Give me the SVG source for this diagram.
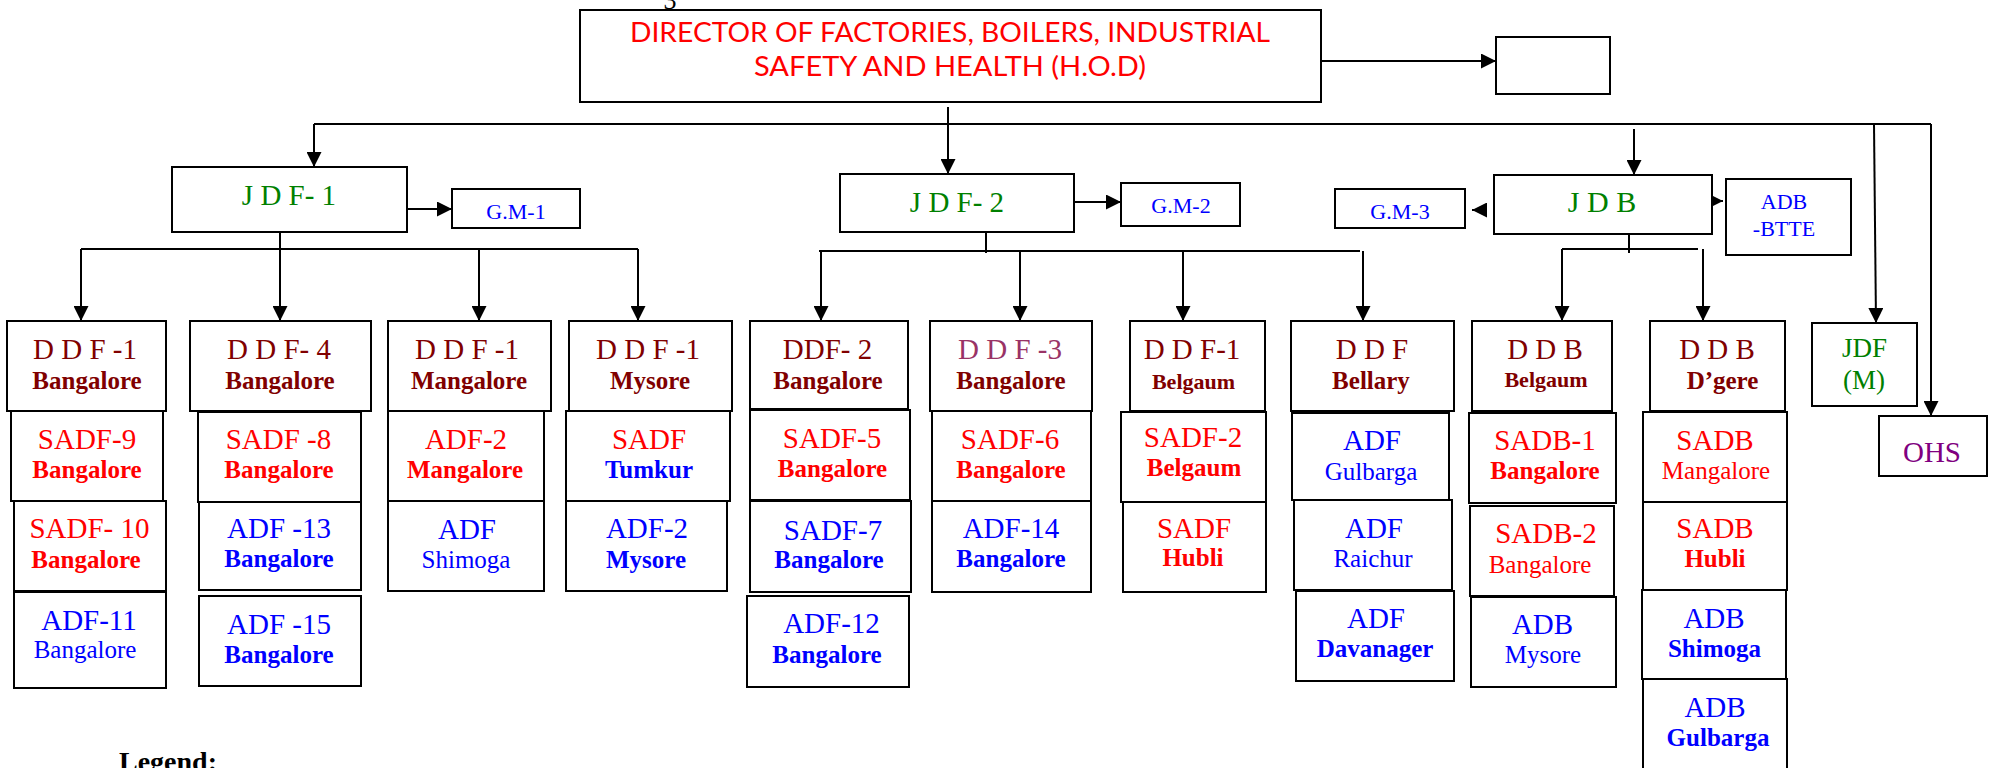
<svg xmlns="http://www.w3.org/2000/svg" width="1992" height="768" viewBox="0 0 1992 768">
<defs>
<marker id="arr" markerUnits="userSpaceOnUse" markerWidth="15" markerHeight="15" refX="14" refY="7" orient="auto" viewBox="0 0 14 14">
<path d="M0,0 L14,7 L0,14 z" fill="#000"/>
</marker>
<style>
.box{fill:#fff;stroke:#000;stroke-width:2}
.ln{fill:none;stroke:#000;stroke-width:2}
.ar{fill:none;stroke:#000;stroke-width:2;marker-end:url(#arr)}
text{font-family:"Liberation Serif","Times New Roman",serif;text-anchor:middle}
.h{font-size:29px}
.s{font-size:25px}
.sm{font-size:22px}
.b{font-weight:bold}
.dr{fill:#800000}
.rd{fill:#ff0000}
.bl{fill:#0000ff}
.gr{fill:#008000}
.pu{fill:#800080}
.mv{fill:#993366}
.hod{font-family:Lato,"Open Sans",sans-serif;font-size:27px;fill:#ff0000}
</style>
</defs>
<rect x="0" y="0" width="1992" height="768" fill="#fff"/>
<text x="670" y="9" style="font-size:26px;fill:#000">3</text>

<g id="connectors">
<path class="ar" d="M1321,61 H1496"/>
<path class="ln" d="M314,124 H1931"/>
<path class="ar" d="M314,124 V167"/>
<path class="ar" d="M948,107 V174"/>
<path class="ar" d="M1634,129 V175"/>
<path class="ar" d="M1874,124 L1876,323"/>
<path class="ar" d="M1931,124 V416"/>
<path class="ar" d="M407,209 H452"/>
<path class="ar" d="M1074,202 H1121"/>
<path class="ar" d="M1487,210 H1472"/>
<path class="ar" d="M1708,201 H1723"/>
<path class="ln" d="M280,232 V249 M81,249 H638"/>
<path class="ar" d="M81,249 V321"/>
<path class="ar" d="M280,249 V321"/>
<path class="ar" d="M479,249 V321"/>
<path class="ar" d="M638,249 V321"/>
<path class="ln" d="M986,232 V253 M819,251 H1360"/>
<path class="ar" d="M821,251 V321"/>
<path class="ar" d="M1020,251 V321"/>
<path class="ar" d="M1183,251 V321"/>
<path class="ar" d="M1363,251 V321"/>
<path class="ln" d="M1629,234 V253 M1562,249 H1698"/>
<path class="ar" d="M1562,249 V321"/>
<path class="ar" d="M1703,249 V321"/>
</g>

<g id="director"><rect class="box" x="580" y="10" width="741" height="92"/>
<text class="hod" x="950" y="42" textLength="640" lengthAdjust="spacingAndGlyphs">DIRECTOR OF FACTORIES, BOILERS, INDUSTRIAL</text>
<text class="hod" x="950" y="76" textLength="392" lengthAdjust="spacingAndGlyphs">SAFETY AND HEALTH (H.O.D)</text></g>
<g id="blank"><rect class="box" x="1496" y="37" width="114" height="57"/></g>

<g id="jdf1"><rect class="box" x="172" y="167" width="235" height="65"/><text class="h gr" x="289" y="205">J D F- 1</text></g>
<g id="gm1"><rect class="box" x="452" y="189" width="128" height="39"/><text class="sm bl" x="516" y="219">G.M-1</text></g>
<g id="jdf2"><rect class="box" x="840" y="174" width="234" height="58"/><text class="h gr" x="957" y="212">J D F- 2</text></g>
<g id="gm2"><rect class="box" x="1121" y="183" width="119" height="43"/><text class="sm bl" x="1181" y="213">G.M-2</text></g>
<g id="gm3"><rect class="box" x="1335" y="189" width="130" height="39"/><text class="sm bl" x="1400" y="219">G.M-3</text></g>
<g id="jdb"><rect class="box" x="1494" y="175" width="218" height="59"/><text class="gr" style="font-size:30px" x="1602" y="212">J D B</text></g>
<g id="adb_btte"><rect class="box" x="1726" y="179" width="125" height="76"/><text class="sm bl" x="1784" y="209">ADB</text><text class="sm bl" x="1784" y="236">-BTTE</text></g>

<g id="ddf1_blr"><rect class="box" x="7" y="321" width="159" height="90"/><text class="h dr" x="85" y="359">D D F -1</text><text class="s b dr" x="87" y="389">Bangalore</text></g>
<g id="sadf9"><rect class="box" x="11" y="411" width="152" height="90"/><text class="h rd" x="87" y="449">SADF-9</text><text class="s b rd" x="87" y="478">Bangalore</text></g>
<g id="sadf10"><rect class="box" x="14" y="501" width="152" height="90"/><text class="h rd" x="89.5" y="538">SADF- 10</text><text class="s b rd" x="86" y="568">Bangalore</text></g>
<g id="adf11"><rect class="box" x="14" y="592" width="152" height="96"/><text class="h bl" x="89" y="630">ADF-11</text><text class="s bl" x="85" y="658">Bangalore</text></g>

<g id="ddf4"><rect class="box" x="190" y="321" width="181" height="90"/><text class="h dr" x="279" y="359">D D F- 4</text><text class="s b dr" x="280" y="389">Bangalore</text></g>
<g id="sadf8"><rect class="box" x="198" y="412" width="163" height="90"/><text class="h rd" x="278.5" y="449">SADF -8</text><text class="s b rd" x="279" y="478">Bangalore</text></g>
<g id="adf13"><rect class="box" x="199" y="502" width="162" height="88"/><text class="h bl" x="279" y="538">ADF -13</text><text class="s b bl" x="279" y="567">Bangalore</text></g>
<g id="adf15"><rect class="box" x="199" y="596" width="162" height="90"/><text class="h bl" x="279" y="634">ADF -15</text><text class="s b bl" x="279" y="663">Bangalore</text></g>

<g id="ddf1_mng"><rect class="box" x="388" y="321" width="163" height="90"/><text class="h dr" x="467" y="359">D D F -1</text><text class="s b dr" x="469" y="389">Mangalore</text></g>
<g id="adf2_mng"><rect class="box" x="388" y="411" width="156" height="90"/><text class="h rd" x="466" y="449">ADF-2</text><text class="s b rd" x="465" y="478">Mangalore</text></g>
<g id="adf_shimoga"><rect class="box" x="388" y="501" width="156" height="90"/><text class="h bl" x="467" y="539">ADF</text><text class="s bl" x="466" y="568">Shimoga</text></g>

<g id="ddf1_mys"><rect class="box" x="569" y="321" width="163" height="90"/><text class="h dr" x="648" y="359">D D F -1</text><text class="s b dr" x="650" y="389">Mysore</text></g>
<g id="sadf_tumkur"><rect class="box" x="566" y="411" width="164" height="90"/><text class="h rd" x="649" y="449">SADF</text><text class="s b bl" x="649" y="478">Tumkur</text></g>
<g id="adf2_mys"><rect class="box" x="566" y="501" width="161" height="90"/><text class="h bl" x="647" y="538">ADF-2</text><text class="s b bl" x="646" y="568">Mysore</text></g>

<g id="ddf2"><rect class="box" x="750" y="321" width="158" height="88"/><text class="h dr" x="827.5" y="359">DDF- 2</text><text class="s b dr" x="828" y="389">Bangalore</text></g>
<g id="sadf5"><rect class="box" x="750" y="410" width="160" height="90"/><text class="h rd" x="832" y="448">SADF-5</text><text class="s b rd" x="832.5" y="477">Bangalore</text></g>
<g id="sadf7"><rect class="box" x="750" y="501" width="161" height="91"/><text class="h bl" x="833" y="540">SADF-7</text><text class="s b bl" x="829" y="568">Bangalore</text></g>
<g id="adf12"><rect class="box" x="747" y="596" width="162" height="91"/><text class="h bl" x="831.5" y="633">ADF-12</text><text class="s b bl" x="827" y="663">Bangalore</text></g>

<g id="ddf3"><rect class="box" x="930" y="321" width="162" height="90"/><text class="h mv" x="1010" y="359">D D F -3</text><text class="s b dr" x="1011" y="389">Bangalore</text></g>
<g id="sadf6"><rect class="box" x="932" y="411" width="159" height="90"/><text class="h rd" x="1010" y="449">SADF-6</text><text class="s b rd" x="1011" y="478">Bangalore</text></g>
<g id="adf14"><rect class="box" x="932" y="501" width="159" height="91"/><text class="h bl" x="1011" y="538">ADF-14</text><text class="s b bl" x="1011" y="567">Bangalore</text></g>

<g id="ddf1_bgm"><rect class="box" x="1130" y="321" width="135" height="90"/><text class="h dr" x="1192" y="359">D D F-1</text><text class="sm b dr" x="1193.5" y="389">Belgaum</text></g>
<g id="sadf2_bgm"><rect class="box" x="1121" y="412" width="145" height="90"/><text class="h rd" x="1193" y="447">SADF-2</text><text class="s b rd" x="1194" y="476">Belgaum</text></g>
<g id="sadf_hubli"><rect class="box" x="1123" y="502" width="143" height="90"/><text class="h rd" x="1194" y="538">SADF</text><text class="s b rd" x="1193" y="566">Hubli</text></g>

<g id="ddf_bellary"><rect class="box" x="1291" y="321" width="163" height="90"/><text class="h dr" x="1372" y="359">D D F</text><text class="s b dr" x="1371" y="389">Bellary</text></g>
<g id="adf_gulbarga"><rect class="box" x="1292" y="413" width="157" height="87"/><text class="h bl" x="1372" y="450">ADF</text><text class="s bl" x="1371" y="480">Gulbarga</text></g>
<g id="adf_raichur"><rect class="box" x="1294" y="500" width="158" height="90"/><text class="h bl" x="1374" y="538">ADF</text><text class="s bl" x="1373" y="567">Raichur</text></g>
<g id="adf_davanager"><rect class="box" x="1296" y="591" width="158" height="90"/><text class="h bl" x="1376" y="628">ADF</text><text class="s b bl" x="1375" y="657">Davanager</text></g>

<g id="ddb_bgm"><rect class="box" x="1472" y="321" width="140" height="90"/><text class="h dr" x="1545" y="359">D D B</text><text class="sm b dr" x="1546" y="387">Belgaum</text></g>
<g id="sadb1"><rect class="box" x="1469" y="413" width="147" height="90"/><text class="h rd" x="1545" y="450">SADB-1</text><text class="s b rd" x="1545" y="479">Bangalore</text></g>
<g id="sadb2"><rect class="box" x="1470" y="506" width="144" height="90"/><text class="h rd" x="1546" y="543">SADB-2</text><text class="s rd" x="1540" y="573">Bangalore</text></g>
<g id="adb_mys"><rect class="box" x="1471" y="597" width="145" height="90"/><text class="h bl" x="1542.5" y="634">ADB</text><text class="s bl" x="1543" y="663">Mysore</text></g>

<g id="ddb_dgere"><rect class="box" x="1650" y="321" width="135" height="90"/><text class="h dr" x="1717" y="359">D D B</text><text class="s b dr" x="1722.5" y="389">D’gere</text></g>
<g id="sadb_mng"><rect class="box" x="1643" y="412" width="144" height="90"/><text class="h rd" x="1715" y="450">SADB</text><text class="s rd" x="1716" y="479">Mangalore</text></g>
<g id="sadb_hubli"><rect class="box" x="1643" y="502" width="144" height="88"/><text class="h rd" x="1715" y="538">SADB</text><text class="s b rd" x="1715" y="567">Hubli</text></g>
<g id="adb_shimoga"><rect class="box" x="1642" y="590" width="144" height="89"/><text class="h bl" x="1714" y="628">ADB</text><text class="s b bl" x="1714.5" y="657">Shimoga</text></g>
<g id="adb_gulbarga"><rect class="box" x="1643" y="679" width="144" height="100"/><text class="h bl" x="1715" y="717">ADB</text><text class="s b bl" x="1718" y="746">Gulbarga</text></g>

<g id="jdf_m"><rect class="box" x="1812" y="323" width="105" height="83"/><text class="gr" style="font-size:27px" x="1864.5" y="357">JDF</text><text class="gr" style="font-size:27px" x="1864" y="389">(M)</text></g>
<g id="ohs"><rect class="box" x="1879" y="416" width="108" height="60"/><text class="h pu" x="1932" y="462">OHS</text></g>

<text x="119" y="771" style="font-size:28px;font-weight:bold;text-anchor:start;fill:#000">Legend:</text>
</svg>
